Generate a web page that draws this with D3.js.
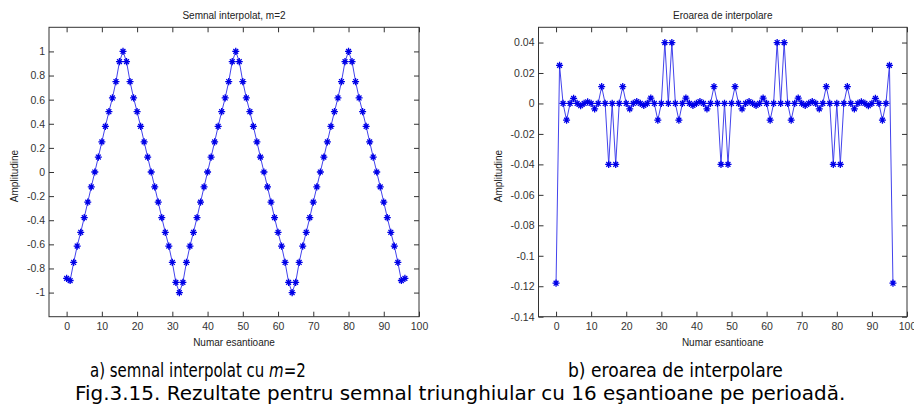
<!DOCTYPE html>
<html><head><meta charset="utf-8">
<script src="https://cdn.jsdelivr.net/npm/d3@7"></script>
<style>
html,body{margin:0;padding:0;background:#fff;}
svg{display:block;}
.ax text{font-family:"Liberation Sans",Arial,sans-serif;font-size:10.5px;fill:#333;}
.ax line{stroke:#333;}
.lbl{font-family:"Liberation Sans",Arial,sans-serif;font-size:10px;fill:#222;}
.cap{font-family:"DejaVu Sans",Verdana,sans-serif;font-size:20px;fill:#000;}
</style></head>
<body>
<svg id="c" width="914" height="404"></svg>
<script>
// ---------------- data ----------------
const sampleIndex = d3.range(0, 97); // sample numbers 0..96
const interpSignal = [
 -0.882,-0.9,-0.75,-0.614,-0.5,-0.378,-0.25,-0.1235,0,0.124,0.25,0.3785,0.5,0.614,0.75,0.915,
 1,0.915,0.75,0.614,0.5,0.3785,0.25,0.1238,0,-0.1238,-0.25,-0.3785,-0.5,-0.614,-0.75,-0.915,
 -1,-0.915,-0.75,-0.614,-0.5,-0.3785,-0.25,-0.1238,0,0.1238,0.25,0.3785,0.5,0.614,0.75,0.915,
 1,0.915,0.75,0.614,0.5,0.3785,0.25,0.1238,0,-0.1238,-0.25,-0.3785,-0.5,-0.614,-0.75,-0.915,
 -1,-0.915,-0.75,-0.614,-0.5,-0.3785,-0.25,-0.1238,0,0.1238,0.25,0.3785,0.5,0.614,0.75,0.915,
 1,0.915,0.75,0.614,0.5,0.3785,0.25,0.124,0,-0.1235,-0.25,-0.378,-0.5,-0.614,-0.75,-0.9,
 -0.882
];
const interpError = [
 -0.118,0.025,0,-0.011,0,0.0033,0,-0.0015,0,0.001,0,-0.0035,0,0.011,0,-0.04,
 0,-0.04,0,0.011,0,-0.0035,0,0.0012,0,-0.0012,0,0.0035,0,-0.011,0,0.04,
 0,0.04,0,-0.011,0,0.0035,0,-0.0012,0,0.0012,0,-0.0035,0,0.011,0,-0.04,
 0,-0.04,0,0.011,0,-0.0035,0,0.0012,0,-0.0012,0,0.0035,0,-0.011,0,0.04,
 0,0.04,0,-0.011,0,0.0035,0,-0.0012,0,0.0012,0,-0.0035,0,0.011,0,-0.04,
 0,-0.04,0,0.011,0,-0.0035,0,0.001,0,-0.0015,0,0.0033,0,-0.011,0,0.025,
 -0.118
];
const zeroLineX = [1, 95];
const zeroLineY = [0, 0];

const xTicks = [0,10,20,30,40,50,60,70,80,90,100];
const xTickLabels = ["0","10","20","30","40","50","60","70","80","90","100"];
const yTicksL = [1,0.8,0.6,0.4,0.2,0,-0.2,-0.4,-0.6,-0.8,-1];
const yTickLabelsL = ["1","0.8","0.6","0.4","0.2","0","-0.2","-0.4","-0.6","-0.8","-1"];
const yTicksR = [0.04,0.02,0,-0.02,-0.04,-0.06,-0.08,-0.1,-0.12,-0.14];
const yTickLabelsR = ["0.04","0.02","0","-0.02","-0.04","-0.06","-0.08","-0.1","-0.12","-0.14"];

const titleL = "Semnal interpolat, m=2";
const titleR = "Eroarea de interpolare";
const xLabel = "Numar esantioane";
const yLabel = "Amplitudine";
const capA = ["a) semnal interpolat cu ", "m", "=2"];
const capB = "b) eroarea de interpolare";
const capFig = "Fig.3.15. Rezultate pentru semnal triunghiular cu 16 eşantioane pe perioadă.";

// ---------------- drawing ----------------
const svg = d3.select("#c");
const lineColor = "#4343ec";
const markColor = "#0000e8";
const starPath = "M-3.5,0H3.5M0,-3.6V3.6M-2.4,-2.4L2.4,2.4M-2.4,2.4L2.4,-2.4";

function panel(opt){
  const g = svg.append("g");
  const x = d3.scaleLinear().domain([-5,100]).range([opt.x0, opt.x1]);
  const y = d3.scaleLinear().domain(opt.yDom).range([opt.y1, opt.y0]);
  const yl = opt.yLabels, yt = opt.yTicks;
  const fmtX = d => xTickLabels[xTicks.indexOf(d)];
  const fmtY = d => yl[yt.indexOf(d)];
  g.append("g").attr("class","ax").attr("transform",`translate(0,${opt.y1})`)
    .call(d3.axisBottom(x).tickValues(xTicks).tickFormat(fmtX).tickSizeInner(-5).tickSizeOuter(0).tickPadding(6))
    .call(s=>s.select(".domain").remove());
  g.append("g").attr("class","ax").attr("transform",`translate(0,${opt.y0})`)
    .call(d3.axisTop(x).tickValues(xTicks).tickFormat("").tickSizeInner(-5).tickSizeOuter(0))
    .call(s=>s.select(".domain").remove());
  g.append("g").attr("class","ax").attr("transform",`translate(${opt.x0},0)`)
    .call(d3.axisLeft(y).tickValues(yt).tickFormat(fmtY).tickSizeInner(-5).tickSizeOuter(0).tickPadding(4))
    .call(s=>s.select(".domain").remove());
  g.append("g").attr("class","ax").attr("transform",`translate(${opt.x1},0)`)
    .call(d3.axisRight(y).tickValues(yt).tickFormat("").tickSizeInner(-5).tickSizeOuter(0))
    .call(s=>s.select(".domain").remove());
  g.append("rect").attr("x",opt.x0).attr("y",opt.y0).attr("width",opt.x1-opt.x0).attr("height",opt.y1-opt.y0)
    .attr("fill","none").attr("stroke","#333").attr("stroke-width",1);

  const line = d3.line().x((d,i)=>x(sampleIndex[i])).y(d=>y(d));
  if (opt.extra){
    g.append("path").datum(opt.extra.y).attr("fill","none").attr("stroke",lineColor).attr("stroke-width",1.1)
      .attr("d", d3.line().x((d,i)=>x(opt.extra.x[i])).y(d=>y(d)));
  }
  g.append("path").datum(opt.data).attr("fill","none").attr("stroke",lineColor).attr("stroke-width",1)
    .attr("d", line);
  g.append("g").selectAll("path").data(opt.data).join("path")
    .attr("transform",(d,i)=>`translate(${x(sampleIndex[i])},${y(d)})`)
    .attr("d",starPath).attr("stroke",markColor).attr("stroke-width",1.3).attr("fill","none");

  const cx = (opt.x0+opt.x1)/2;
  g.append("text").attr("class","lbl").attr("x",cx).attr("y",19).attr("text-anchor","middle").text(opt.title);
  g.append("text").attr("class","lbl").attr("x",cx).attr("y",345.5).attr("text-anchor","middle").text(xLabel);
  g.append("text").attr("class","lbl").attr("text-anchor","middle")
    .attr("transform",`translate(${opt.ylx},${(opt.y0+opt.y1)/2+4}) rotate(-90)`).text(yLabel);
}

panel({x0:49, x1:419, y0:27.3, y1:316.7, yDom:[-1.2,1.2], yTicks:yTicksL, yLabels:yTickLabelsL,
       data:interpSignal, title:titleL, ylx:18});
panel({x0:538.5, x1:907, y0:27.3, y1:316.7, yDom:[-0.14,0.05], yTicks:yTicksR, yLabels:yTickLabelsR,
       data:interpError, title:titleR, ylx:502, extra:{x:zeroLineX, y:zeroLineY}});

// captions, fitted horizontally
function caption(parts, left, right, base){
  const t = svg.append("text").attr("class","cap").attr("x",0).attr("y",0);
  parts.forEach((p,i)=>{
    const ts = t.append("tspan").text(p);
    if (parts.length===3 && i===1) ts.attr("font-style","italic");
  });
  const w = t.node().getBBox().width;
  const sx = (right-left)/w;
  t.attr("transform",`translate(${left},${base}) scale(${sx},1)`);
}
caption(capA, 90, 306, 377);
caption([capB], 568, 783, 377);
caption([capFig], 75, 846, 399.5);
</script>
</body></html>
